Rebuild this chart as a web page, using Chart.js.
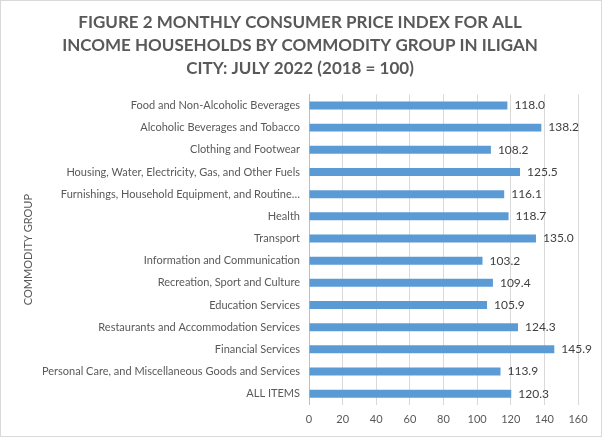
<!DOCTYPE html>
<html>
<head>
	<meta charset="utf-8">
	<script src="https://cdn.jsdelivr.net/npm/chart.js@4.4.1/dist/chart.umd.min.js"></script>
	<style>
		body { margin: 0; background: #fff; }
		#wrap { width: 600px; height: 435px; border: 1px solid #d9d9d9; position: relative; }
	</style>
	<title>CPI Iligan City July 2022</title>
</head>
<body>
	<div id="wrap"><canvas id="myChart"></canvas></div>
	<script>
		// categories as shown in the chart (top to bottom)
		var groups = [
			"Food and Non-Alcoholic Beverages",
			"Alcoholic Beverages and Tobacco",
			"Clothing and Footwear",
			"Housing, Water, Electricity, Gas, and Other Fuels",
			"Furnishings, Household Equipment, and Routine\u2026",
			"Health",
			"Transport",
			"Information and Communication",
			"Recreation, Sport and Culture",
			"Education Services",
			"Restaurants and Accommodation Services",
			"Financial Services",
			"Personal Care, and Miscellaneous Goods and Services",
			"ALL ITEMS"
		];
		var cpiValues = [118.0, 138.2, 108.2, 125.5, 116.1, 118.7, 135.0, 103.2, 109.4, 105.9, 124.3, 145.9, 113.9, 120.3];
		var titleLines = [
			"FIGURE 2 MONTHLY CONSUMER PRICE INDEX FOR ALL",
			"INCOME HOUSEHOLDS BY COMMODITY GROUP IN ILIGAN",
			"CITY: JULY 2022 (2018 = 100)"
		];
		var xMin = 0, xMax = 160, xStep = 20;

		// draws the value next to the end of each bar
		var valueLabels = {
			id: 'valueLabels',
			afterDatasetsDraw: function (chart) {
				var ctx = chart.ctx;
				var meta = chart.getDatasetMeta(0);
				ctx.save();
				ctx.font = "12px Lato";
				ctx.fillStyle = "#404040";
				ctx.textAlign = "left";
				ctx.textBaseline = "middle";
				meta.data.forEach(function (bar, i) {
					ctx.fillText(cpiValues[i].toFixed(1), bar.x + 7, bar.y);
				});
				ctx.restore();
			}
		};

		var ctx = document.getElementById('myChart').getContext('2d');
		var myChart = new Chart(ctx, {
			type: 'bar',
			data: {
				labels: groups,
				datasets: [{
					data: cpiValues,
					backgroundColor: "#5b9bd5",
					barPercentage: 0.72,
					categoryPercentage: 0.5
				}]
			},
			options: {
				indexAxis: 'y',
				responsive: true,
				maintainAspectRatio: false,
				animation: false,
				layout: { padding: { left: 21, right: 23, top: 0, bottom: 2 } },
				plugins: {
					legend: { display: false },
					tooltip: { enabled: false },
					title: {
						display: true,
						text: titleLines,
						color: "#595959",
						font: { family: "Lato", size: 17, weight: "bold", lineHeight: 1.36 },
						padding: { top: 10, bottom: 14 }
					}
				},
				scales: {
					x: {
						min: xMin,
						max: xMax,
						ticks: { stepSize: xStep, color: "#595959", font: { family: "Lato", size: 11 }, padding: 8 },
						grid: { color: "#d9d9d9", drawTicks: false },
						border: { display: false }
					},
					y: {
						title: {
							display: true,
							text: "COMMODITY GROUP",
							color: "#595959",
							font: { family: "Lato", size: 11 },
							padding: { top: 0, bottom: 0 }
						},
						ticks: { color: "#595959", font: { family: "Lato", size: 11 }, padding: 9, autoSkip: false },
						grid: { display: false, drawTicks: false },
						border: { display: true, color: "#bfbfbf" },
						afterFit: function (scale) { scale.width = 287; }
					}
				}
			},
			plugins: [valueLabels]
		});
	</script>
</body>
</html>
